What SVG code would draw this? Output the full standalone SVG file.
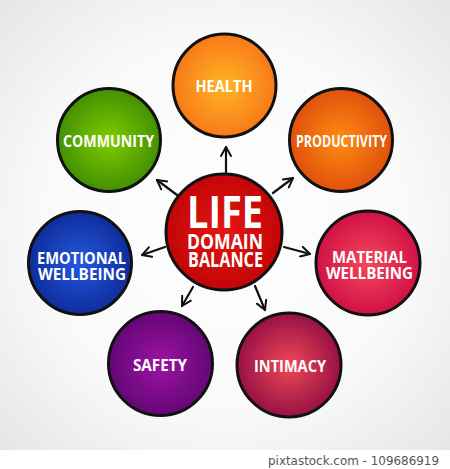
<svg xmlns="http://www.w3.org/2000/svg" width="450" height="469" viewBox="0 0 450 469">
<defs>
<radialGradient id="bg" cx="50%" cy="50%" r="70%"><stop offset="0" stop-color="#ffffff"/><stop offset="0.6" stop-color="#f9f9f9"/><stop offset="1" stop-color="#e6e6e6"/></radialGradient>
<radialGradient id="gHealth" cx="50%" cy="50%" r="55%"><stop offset="0" stop-color="#ffb524"/><stop offset="1" stop-color="#f77418"/></radialGradient>
<radialGradient id="gComm" cx="50%" cy="50%" r="55%"><stop offset="0" stop-color="#80cc00"/><stop offset="1" stop-color="#3d8a02"/></radialGradient>
<radialGradient id="gProd" cx="50%" cy="50%" r="55%"><stop offset="0" stop-color="#ff8c12"/><stop offset="1" stop-color="#dd4b0c"/></radialGradient>
<radialGradient id="gLife" cx="50%" cy="50%" r="55%"><stop offset="0" stop-color="#e41616"/><stop offset="1" stop-color="#c00404"/></radialGradient>
<radialGradient id="gEmo" cx="50%" cy="50%" r="55%"><stop offset="0" stop-color="#2458e0"/><stop offset="1" stop-color="#0c2994"/></radialGradient>
<radialGradient id="gMat" cx="50%" cy="50%" r="55%"><stop offset="0" stop-color="#f6485a"/><stop offset="1" stop-color="#cc0c44"/></radialGradient>
<radialGradient id="gSafe" cx="50%" cy="50%" r="55%"><stop offset="0" stop-color="#9e12a6"/><stop offset="1" stop-color="#5e0670"/></radialGradient>
<radialGradient id="gInt" cx="50%" cy="50%" r="55%"><stop offset="0" stop-color="#f04856"/><stop offset="1" stop-color="#8e0c42"/></radialGradient>
<marker id="arr" viewBox="0 0 12 12" refX="10" refY="6" markerWidth="12" markerHeight="12" markerUnits="userSpaceOnUse" orient="auto">
<path d="M1,1 L10,6 L1,11" fill="none" stroke="#111" stroke-width="2" stroke-linecap="round" stroke-linejoin="round"/>
</marker>
</defs>
<style>
.node circle{stroke:#111;stroke-width:3}
.lbl{font-family:"Open Sans","DejaVu Sans",sans-serif;font-weight:700;fill:#fff;text-anchor:middle}
.s{font-size:16px}
.conn line{stroke:#111;stroke-width:2.2;stroke-linecap:round;marker-end:url(#arr)}
</style>
<rect x="0" y="0" width="450" height="450" fill="url(#bg)"/>
<rect x="0" y="450" width="450" height="19" fill="#ffffff"/>
<g id="connectors" class="conn">
<line x1="226" y1="173" x2="226" y2="147"/>
<line x1="177" y1="195" x2="157" y2="180"/>
<line x1="273" y1="193" x2="293" y2="178"/>
<line x1="165" y1="247" x2="142" y2="255"/>
<line x1="284" y1="247" x2="310" y2="254"/>
<line x1="193" y1="287" x2="182" y2="306"/>
<line x1="255" y1="286" x2="265" y2="310"/>
</g>
<g id="health" class="node"><circle cx="224.5" cy="85.5" r="51.5" fill="url(#gHealth)"/><text class="lbl s" x="224" y="92" textLength="57" lengthAdjust="spacingAndGlyphs">HEALTH</text></g>
<g id="community" class="node"><circle cx="109" cy="140" r="51.5" fill="url(#gComm)"/><text class="lbl s" x="108.5" y="147" textLength="91" lengthAdjust="spacingAndGlyphs">COMMUNITY</text></g>
<g id="productivity" class="node"><circle cx="341" cy="140" r="51.5" fill="url(#gProd)"/><text class="lbl s" x="341.5" y="147" textLength="91" lengthAdjust="spacingAndGlyphs">PRODUCTIVITY</text></g>
<g id="life" class="node"><circle cx="224" cy="232" r="58" fill="url(#gLife)"/>
<text class="lbl" x="225" y="228" font-size="44" textLength="76" lengthAdjust="spacingAndGlyphs">LIFE</text>
<text class="lbl" x="225" y="249" font-size="22" textLength="76" lengthAdjust="spacingAndGlyphs">DOMAIN</text>
<text class="lbl" x="225.5" y="267" font-size="22" textLength="75" lengthAdjust="spacingAndGlyphs">BALANCE</text></g>
<g id="emotional" class="node"><circle cx="80" cy="263" r="51.5" fill="url(#gEmo)"/>
<text class="lbl s" x="81.5" y="264" textLength="89" lengthAdjust="spacingAndGlyphs">EMOTIONAL</text>
<text class="lbl s" x="82" y="280" textLength="88" lengthAdjust="spacingAndGlyphs">WELLBEING</text></g>
<g id="material" class="node"><circle cx="368" cy="263" r="52" fill="url(#gMat)"/>
<text class="lbl s" x="369.5" y="263" textLength="75" lengthAdjust="spacingAndGlyphs">MATERIAL</text>
<text class="lbl s" x="369.5" y="279" textLength="87" lengthAdjust="spacingAndGlyphs">WELLBEING</text></g>
<g id="safety" class="node"><circle cx="160.5" cy="363.5" r="52" fill="url(#gSafe)"/><text class="lbl s" x="160" y="371" textLength="54" lengthAdjust="spacingAndGlyphs">SAFETY</text></g>
<g id="intimacy" class="node"><circle cx="289" cy="365" r="52" fill="url(#gInt)"/><text class="lbl s" x="290" y="372" textLength="72" lengthAdjust="spacingAndGlyphs">INTIMACY</text></g>
<text x="439" y="465" font-family="'DejaVu Sans','Liberation Sans',sans-serif" font-size="12.5" fill="#555" text-anchor="end" textLength="171" lengthAdjust="spacingAndGlyphs">pixtastock.com - 109686919</text>
</svg>
